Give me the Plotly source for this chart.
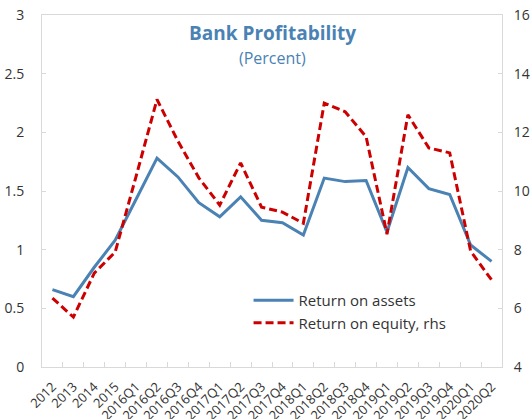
import plotly.graph_objects as go

# Quarterly/annual periods on the x-axis
periods = [
    "2012", "2013", "2014", "2015",
    "2016Q1", "2016Q2", "2016Q3", "2016Q4",
    "2017Q1", "2017Q2", "2017Q3", "2017Q4",
    "2018Q1", "2018Q2", "2018Q3", "2018Q4",
    "2019Q1", "2019Q2", "2019Q3", "2019Q4",
    "2020Q1", "2020Q2",
]

# Return on assets (percent, left axis)
return_on_assets = [
    0.66, 0.60, 0.85, 1.08,
    1.43, 1.78, 1.62, 1.40,
    1.28, 1.45, 1.25, 1.23,
    1.125, 1.61, 1.58, 1.59,
    1.15, 1.70, 1.52, 1.47,
    1.04, 0.90,
]

# Return on equity (percent, right axis)
return_on_equity = [
    6.35, 5.70, 7.20, 7.92,
    10.50, 13.12, 11.70, 10.45,
    9.52, 10.96, 9.45, 9.28,
    8.90, 13.00, 12.70, 11.85,
    8.53, 12.60, 11.47, 11.30,
    7.95, 6.97,
]

blue = "#4a82b4"
red = "#cc0000"
grey_line = "#d9d9d9"
label_col = "#333333"
font_family = "Open Sans, Noto Sans, sans-serif"

fig = go.Figure()
fig.add_trace(go.Scatter(
    x=periods, y=return_on_assets, name="Return on assets",
    mode="lines", line=dict(color=blue, width=3), yaxis="y",
))
fig.add_trace(go.Scatter(
    x=periods, y=return_on_equity, name="Return on equity, rhs",
    mode="lines", line=dict(color=red, width=3, dash="8px,4px"), yaxis="y2",
))

fig.update_layout(
    width=532, height=419,
    margin=dict(l=42, r=30, t=15, b=52),
    paper_bgcolor="white", plot_bgcolor="white",
    font=dict(family=font_family, color=label_col, size=13),
    showlegend=True,
    legend=dict(
        x=0.449, y=0.236, xanchor="left", yanchor="top",
        bgcolor="rgba(0,0,0,0)", font=dict(size=15, color=label_col),
        itemwidth=40, tracegroupgap=0,
    ),
    xaxis=dict(
        type="category", range=[-0.5, len(periods) - 0.5],
        tickangle=-45, showline=True, linecolor=grey_line,
        linewidth=1, mirror=True, ticks="inside", tickson="boundaries",
        ticklen=5, tickcolor=grey_line, showgrid=False, zeroline=False,
        tickfont=dict(size=13, color=label_col), ticklabelstandoff=6,
        automargin=False,
    ),
    yaxis=dict(
        range=[0, 3], dtick=0.5, showline=True, linecolor=grey_line,
        ticks="inside", ticklen=4, tickcolor=grey_line, showgrid=False,
        zeroline=False, tickfont=dict(size=14, color=label_col),
        ticklabelstandoff=14, automargin=False,
    ),
    yaxis2=dict(
        range=[4, 16], dtick=2, overlaying="y", side="right",
        showline=True, linecolor=grey_line, ticks="inside", ticklen=4,
        tickcolor=grey_line, showgrid=False, zeroline=False,
        tickfont=dict(size=14, color=label_col), ticklabelstandoff=8,
        automargin=False,
    ),
    annotations=[
        dict(text="<b>Bank Profitability</b>", x=0.5, y=33, xref="paper",
             yref="paper", yanchor="middle", showarrow=False,
             font=dict(size=19, color=blue)),
        dict(text="(Percent)", x=0.5, y=58, xref="paper", yref="paper",
             yanchor="middle", showarrow=False,
             font=dict(size=16, color=blue)),
    ],
)

# Title lines are placed by pixel row; convert to paper coordinates
plot_top, plot_bottom = 15, 419 - 52
for ann in fig.layout.annotations:
    ann.y = (plot_bottom - ann.y) / (plot_bottom - plot_top)

fig.write_html("out.html")
